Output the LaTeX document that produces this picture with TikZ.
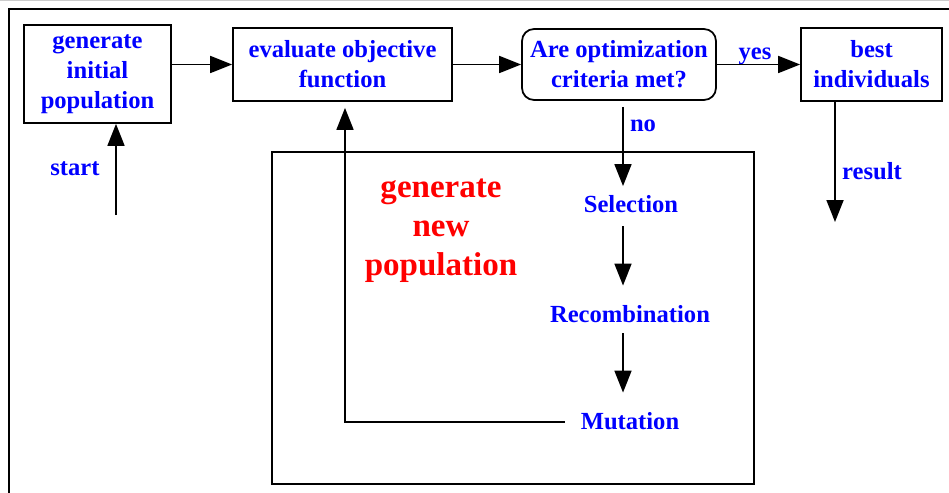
\documentclass[tikz,border=0pt]{standalone}
\usepackage{fontspec}
\setmainfont{Liberation Serif}
\usetikzlibrary{arrows.meta,positioning}

\begin{document}
\begin{tikzpicture}[x=0.02cm,y=-0.02cm,line width=1pt,
	box/.style={draw,align=center,text=blue,font=\fontsize{14}{17}\selectfont\bfseries},
	lbl/.style={text=blue,font=\fontsize{14}{17}\selectfont\bfseries,inner sep=0pt,text height=10pt,text depth=2pt},
	arr/.style={-{Triangle[length=0.44cm,width=0.34cm]}}]
	\useasboundingbox (0,0) rectangle (949,493);
	\draw[gray!40,line width=0.5pt] (0,0.5) -- (949,0.5);
	\draw (9,493) -- (9,9) -- (949,9);
	\draw (272,152) rectangle (754,484);
	\path (97.5,74) node (init) [box,minimum width=2.94cm,minimum height=1.96cm] {generate\\initial\\population}
		  (342.5,64.5) node (eval) [box,minimum width=4.38cm,minimum height=1.46cm] {evaluate objective\\function}
		  (619,64.5) node (crit) [box,rounded corners=0.24cm,minimum width=3.88cm,minimum height=1.42cm] {Are optimization\\criteria met?}
		  (871.5,64.5) node (best) [box,minimum width=2.82cm,minimum height=1.46cm] {best\\individuals};
	\path (75,168) node (start) [lbl] {start}
		  (755,52) node (yes) [lbl] {yes}
		  (643,124) node (no) [lbl] {no}
		  (872,172) node (result) [lbl] {result}
		  (631,205) node (sel) [lbl] {Selection}
		  (630,315) node (rec) [lbl] {Recombination}
		  (630,422) node (mut) [lbl] {Mutation}
		  (441,231) node (newpop) [align=center,text=red,font=\fontsize{18.8}{22.2}\selectfont\bfseries] {generate\\new\\population};
	\coordinate (startpt) at (116,215);
	\coordinate (lane) at (623,0);
	\coordinate (back) at (345,0);
	\coordinate (resend) at (835,222);
	\draw[arr] (startpt) -- (startpt |- init.south);
	\draw[arr] (init.east |- eval.west) -- (eval.west);
	\draw[arr] (eval) -- (crit);
	\draw[arr] (crit) -- (best);
	\draw[arr,shorten <=0.12cm,shorten >=0.15cm] (crit.south -| lane) -- (sel.north -| lane);
	\draw[arr,shorten <=0.2cm,shorten >=0.36cm] (sel.south -| lane) -- (rec.north -| lane);
	\draw[arr,shorten <=0.14cm,shorten >=0.36cm] (rec.south -| lane) -- (mut.north -| lane);
	\draw[arr,shorten >=0.12cm] ([xshift=-0.3cm]mut.west) -| (eval.south -| back);
	\draw[arr] (best.south -| resend) -- (resend);
\end{tikzpicture}
\end{document}
